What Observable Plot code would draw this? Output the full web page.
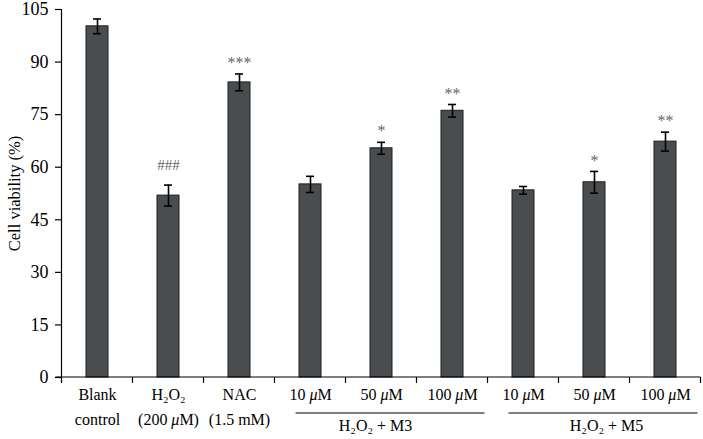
<!DOCTYPE html>
<html>
<head>
<meta charset="utf-8">
<script src="https://cdn.jsdelivr.net/npm/d3@7"></script>
<script src="https://cdn.jsdelivr.net/npm/@observablehq/plot@0.6"></script>
<style>
  html, body { margin: 0; padding: 0; background: #fff; }
  #chart svg { display: block; font-family: "Liberation Serif", "DejaVu Serif", serif; }
</style>
</head>
<body>
<div id="chart"></div>
<script>
// ---- data ----
const categories = ["Blank control", "H2O2 (200 μM)", "NAC (1.5 mM)", "M3 10", "M3 50", "M3 100", "M5 10", "M5 50", "M5 100"];
const means  = [100.2, 51.9, 84.2, 55.1, 65.4, 76.1, 53.4, 55.7, 67.3];
const errors = [2.1, 3.0, 2.4, 2.3, 1.7, 1.8, 1.1, 3.1, 2.7];
const significance = ["", "###", "***", "", "*", "**", "", "*", "**"];
const labelLine1 = ["Blank", "H₂O₂", "NAC", "10 μM", "50 μM", "100 μM", "10 μM", "50 μM", "100 μM"];
const labelLine2 = ["control", "(200 μM)", "(1.5 mM)", "", "", "", "", "", ""];
const groupLabels = ["H₂O₂ + M3", "H₂O₂ + M5"];
const groupFirst  = ["M3 10", "M5 10"];
const groupMiddle = ["M3 50", "M5 50"];
const groupLast   = ["M3 100", "M5 100"];
const yTicks = [0, 15, 30, 45, 60, 75, 90, 105];

const data = categories.map((c, i) => ({
  cat: c, mean: means[i], err: errors[i], sig: significance[i],
  l1: labelLine1[i], l2: labelLine2[i]
}));
const groups = groupLabels.map((g, i) => ({label: g, first: groupFirst[i], mid: groupMiddle[i], last: groupLast[i]}));

// axis lines and boundary ticks on x axis, from the band scale
function axisLines(index, scales, values, dims) {
  const x = scales.x, y = scales.y;
  const g = d3.create("svg:g");
  const pos = categories.map(c => x(c));
  const step = pos[1] - pos[0];
  const bw = x.bandwidth ? x.bandwidth() : 0;
  const y0 = y(0);
  const bounds = [];
  for (let i = 0; i <= categories.length; i++) {
    const center = (i < categories.length ? pos[i] : pos[i - 1] + step) + bw / 2;
    bounds.push(center - step / 2);
  }
  bounds.forEach(b => {
    g.append("line").attr("x1", b).attr("x2", b).attr("y1", y0).attr("y2", y0 + 6)
      .attr("stroke", "#000").attr("stroke-width", 1.2);
  });
  g.append("line").attr("x1", bounds[0] - 6).attr("x2", bounds[bounds.length - 1])
    .attr("y1", y0).attr("y2", y0).attr("stroke", "#000").attr("stroke-width", 1.2);
  g.append("line").attr("x1", bounds[0]).attr("x2", bounds[0])
    .attr("y1", y(105)).attr("y2", y0).attr("stroke", "#000").attr("stroke-width", 1.2);
  return g.node();
}

// group underlines
function groupLines(index, scales, values, dims) {
  const x = scales.x;
  const g = d3.create("svg:g");
  const pos = categories.map(c => x(c));
  const step = pos[1] - pos[0];
  const bw = x.bandwidth ? x.bandwidth() : 0;
  const yLine = dims.height - dims.marginBottom + 36;
  groups.forEach(gr => {
    const left = x(gr.first) + bw / 2 - step / 2 + 21;
    const right = x(gr.last) + bw / 2 + step / 2 - 3;
    g.append("line").attr("x1", left).attr("x2", right).attr("y1", yLine).attr("y2", yLine)
      .attr("stroke", "#000").attr("stroke-width", 1.2);
  });
  return g.node();
}

const plot = Plot.plot({
  width: 703,
  height: 439,
  marginLeft: 61,
  marginRight: 1,
  marginTop: 9,
  marginBottom: 62,
  style: {fontFamily: "'Liberation Serif', 'DejaVu Serif', serif", background: "#fff"},
  x: {domain: categories, paddingInner: 0.69, paddingOuter: 0.345, axis: null},
  y: {domain: [0, 105], axis: null},
  marks: [
    Plot.barY(data, {x: "cat", y: "mean", fill: "#4a4d50", stroke: "#1e1e1e", strokeWidth: 1}),
    Plot.ruleX(data, {x: "cat", y1: d => d.mean - d.err, y2: d => d.mean + d.err, stroke: "#000", strokeWidth: 1.6}),
    Plot.tickY(data, {x: "cat", y: d => d.mean + d.err, stroke: "#000", strokeWidth: 1.6, insetLeft: 7, insetRight: 7}),
    Plot.tickY(data, {x: "cat", y: d => d.mean - d.err, stroke: "#000", strokeWidth: 1.6, insetLeft: 7, insetRight: 7}),
    Plot.text(data.filter(d => d.sig.startsWith("*")), {x: "cat", y: d => d.mean + d.err, text: "sig", dy: -11, fontSize: 16, fill: "#666"}),
    Plot.text(data.filter(d => d.sig.startsWith("#")), {x: "cat", y: d => d.mean + d.err, text: "sig", dy: -20, fontSize: 15, fill: "#666"}),
    Plot.axisY({ticks: yTicks, tickSize: 6, tickPadding: 7, label: "Cell viability (%)", labelAnchor: "center", labelArrow: "none", labelOffset: 53, stroke: "#000", strokeWidth: 1.2, color: "#000"}),
    axisLines,
    groupLines,
    Plot.text(data, {x: "cat", text: "l1", frameAnchor: "bottom", dy: 22, fontSize: 16, fill: "#000"}),
    Plot.text(data, {x: "cat", text: "l2", frameAnchor: "bottom", dy: 47, fontSize: 16, fill: "#000"}),
    Plot.text(groups.slice(0, 1), {x: "mid", text: "label", frameAnchor: "bottom", dy: 53, dx: -6, fontSize: 16, fill: "#000"}),
    Plot.text(groups.slice(1), {x: "mid", text: "label", frameAnchor: "bottom", dy: 53, dx: 12, fontSize: 16, fill: "#000"})
  ]
});

document.getElementById("chart").appendChild(plot);

// larger axis text, as in the reference
d3.select(plot).selectAll("g[aria-label='y-axis tick label']").attr("font-size", 18);
d3.select(plot).selectAll("g[aria-label='y-axis label']").attr("font-size", 16.5);

// italic μ, as in the reference
d3.select(plot).selectAll("text").each(function () {
  const el = this;
  const tspans = el.querySelectorAll("tspan");
  const targets = tspans.length ? Array.from(tspans) : [el];
  targets.forEach(t => {
    if (t.childElementCount) return;
    const s = t.textContent;
    if (!s.includes("μ")) return;
    t.textContent = "";
    s.split(/(μ)/).forEach(part => {
      if (!part) return;
      const sp = document.createElementNS("http://www.w3.org/2000/svg", "tspan");
      if (part === "μ") sp.setAttribute("font-style", "italic");
      sp.textContent = part;
      t.appendChild(sp);
    });
  });
});
</script>
</body>
</html>
